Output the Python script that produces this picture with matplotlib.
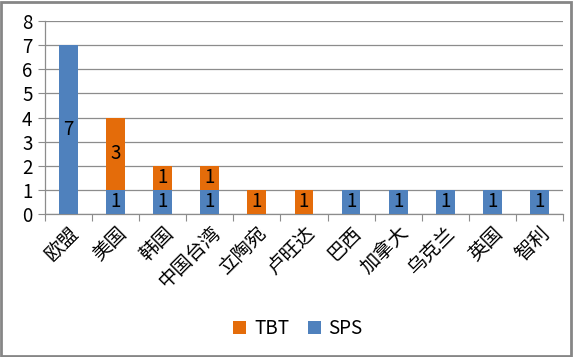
import numpy as np
import matplotlib
matplotlib.use('Agg')
import matplotlib.pyplot as plt
from matplotlib.patches import Rectangle

plt.rcParams['font.family'] = ['Noto Sans CJK SC', 'DejaVu Sans']

# Data
categories = ['欧盟', '美国', '韩国', '中国台湾', '立陶宛', '卢旺达', '巴西', '加拿大', '乌克兰', '英国', '智利']
sps = [7, 1, 1, 1, 0, 0, 1, 1, 1, 1, 1]
tbt = [0, 3, 1, 1, 1, 1, 0, 0, 0, 0, 0]
y_ticks = [0, 1, 2, 3, 4, 5, 6, 7, 8]

blue = '#4F81BD'
orange = '#E46C0A'
grid_col = '#8C8C8C'

fig = plt.figure(figsize=(5.73, 3.57), dpi=100)
ax = fig.add_axes([0.0785, 0.4006, 0.904, 0.5404])

x = np.arange(len(categories))
w = 0.4
b1 = ax.bar(x, sps, w, color=blue, label='SPS', zorder=3)
b2 = ax.bar(x, tbt, w, bottom=sps, color=orange, label='TBT', zorder=3)

for rect, v in zip(b1, sps):
    if v:
        ax.text(rect.get_x() + w / 2, rect.get_y() + v / 2, str(v),
                ha='center', va='center', fontsize=13.5, zorder=4)
for rect, v in zip(b2, tbt):
    if v:
        ax.text(rect.get_x() + w / 2, rect.get_y() + v / 2, str(v),
                ha='center', va='center', fontsize=13.5, zorder=4)

ax.set_xlim(-0.5, len(categories) - 0.5)
ax.set_ylim(0, 8)
ax.set_yticks(y_ticks)
ax.tick_params(axis='y', labelsize=13.5, length=5, color=grid_col, pad=4)
ax.yaxis.grid(True, color=grid_col, linewidth=0.9, zorder=0)

# category boundary ticks, labels in between
ax.set_xticks(np.arange(-0.5, len(categories), 1))
ax.set_xticklabels([])
ax.set_xticks(x, minor=True)
ax.set_xticklabels(categories, minor=True, rotation=45, ha='right',
                   rotation_mode='anchor', fontsize=14)
ax.tick_params(axis='x', which='major', length=5, color=grid_col)
ax.tick_params(axis='x', which='minor', length=0, pad=6)

for s in ['top', 'right']:
    ax.spines[s].set_visible(False)
for s in ['left', 'bottom']:
    ax.spines[s].set_color(grid_col)
    ax.spines[s].set_linewidth(0.9)

handles, labels = ax.get_legend_handles_labels()
fig.legend(handles[::-1], labels[::-1], loc='center', bbox_to_anchor=(0.52, 0.08),
           ncol=2, frameon=False, fontsize=13.5, handlelength=0.7, handleheight=0.7,
           columnspacing=1.0, handletextpad=0.4)

fig.patches.append(Rectangle((0.002, 0.003), 0.994, 0.992, transform=fig.transFigure,
                             fill=False, edgecolor='#868686', linewidth=2))

fig.savefig('out.png', dpi=100)
